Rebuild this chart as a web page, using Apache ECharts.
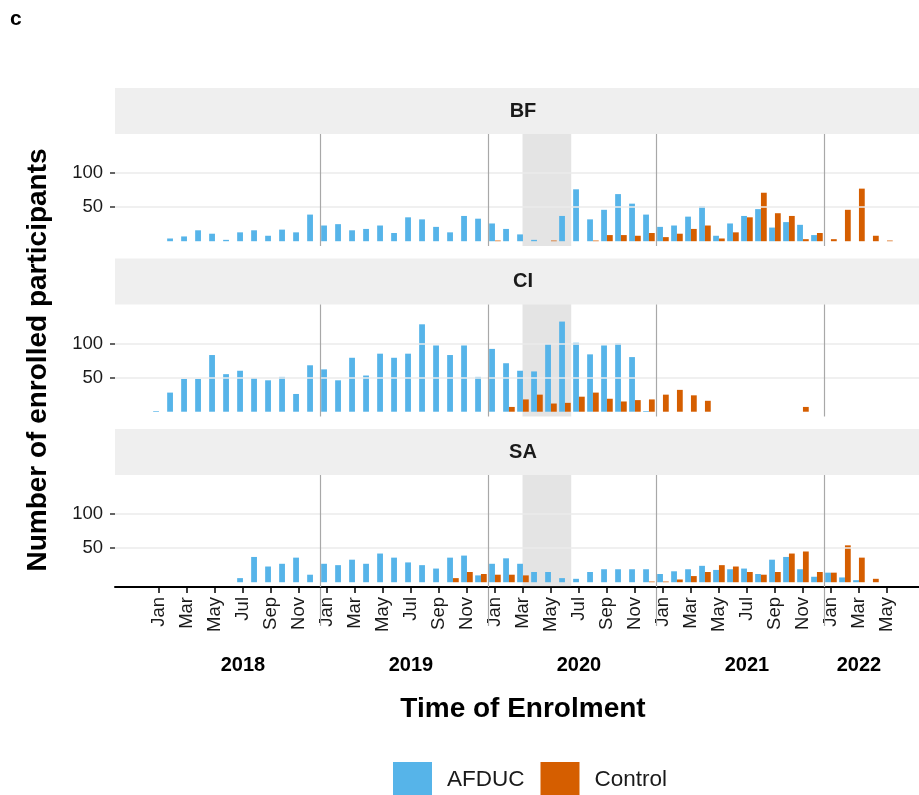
<!DOCTYPE html>
<html>
<head>
<meta charset="utf-8">
<script src="https://cdn.jsdelivr.net/npm/echarts@6/dist/echarts.min.js"></script>
<style>
    html, body { margin: 0; padding: 0; background: #fff; }
    #chart { width: 919px; height: 795px; }
</style>
</head>
<body>
<div id="chart"></div>
<script>
    // month index 0 = Jan 2018 ... 52 = May 2022
    var months = ['Jan', 'Feb', 'Mar', 'Apr', 'May', 'Jun', 'Jul', 'Aug', 'Sep', 'Oct', 'Nov', 'Dec'];
    var monthTicks = [0, 2, 4, 6, 8, 10, 12, 14, 16, 18, 20, 22, 24, 26, 28, 30, 32, 34, 36, 38, 40, 42, 44, 46, 48, 50, 52];
    var years = ['2018', '2019', '2020', '2021', '2022'];
    var yearPos = [6, 18, 30, 42, 50];
    var yearBreaks = [11.5, 23.5, 35.5, 47.5];
    var lockdown = [25.97, 29.45];
    var sites = ['BF', 'CI', 'SA'];
    var yTicks = [50, 100];

    var bfAfduc = [null, 4, 7, 16, 11, 2, 13, 16, 8, 17, 13, 39,
        23, 25, 16, 18, 23, 12, 35, 32, 21, 13, 37, 33,
        26, 18, 10, 2, null, 37, 76, 32, 46, 69, 55, 39,
        21, 23, 36, 51, 8, 26, 37, 47, 20, 28, 24, 9,
        null, null, null, null, null];
    var bfControl = [null, null, null, null, null, null, null, null, null, null, null, null,
        null, null, null, null, null, null, null, null, null, null, null, null,
        1, null, null, null, 1, null, null, 1, 9, 9, 8, 12,
        6, 11, 18, 23, 4, 13, 35, 71, 41, 37, 3, 12,
        3, 46, 77, 8, 1];
    var ciAfduc = [1, 28, 48, 48, 83, 55, 60, 49, 46, 51, 26, 68,
        62, 46, 79, 53, 85, 79, 85, 128, 97, 83, 97, 51,
        92, 71, 60, 59, 99, 132, 101, 84, 97, 100, 80, 1,
        null, null, null, null, null, null, null, null, null, null, null, null,
        null, null, null, null, null];
    var ciControl = [null, null, null, null, null, null, null, null, null, null, null, null,
        null, null, null, null, null, null, null, null, null, null, null, null,
        null, 7, 18, 25, 12, 13, 22, 28, 19, 15, 17, 18,
        25, 32, 24, 16, null, null, null, null, null, null, 7, null,
        null, null, null, null, null];
    var saAfduc = [null, null, null, null, null, null, 6, 37, 23, 27, 36, 11,
        27, 25, 33, 27, 42, 36, 29, 25, 20, 36, 39, 10,
        27, 35, 27, 15, 15, 6, 5, 15, 19, 19, 19, 19,
        12, 16, 19, 24, 18, 19, 20, 12, 33, 37, 19, 8,
        14, 7, 3, null, null];
    var saControl = [null, null, null, null, null, null, null, null, null, null, null, null,
        null, null, null, null, null, null, null, null, null, 6, 15, 12,
        11, 11, 10, null, null, null, null, null, null, null, null, 1,
        1, 4, 9, 15, 25, 23, 15, 11, 15, 42, 45, 15,
        14, 54, 36, 5, null];

    var afducSets = [bfAfduc, ciAfduc, saAfduc];
    var controlSets = [bfControl, ciControl, saControl];

    var FONT = "'Liberation Sans', Arial, Helvetica, sans-serif";
    var BLUE = '#56B4E9', ORANGE = '#D55E00';
    var panelTops = [134, 304.5, 475];
    var panelH = 112;
    var stripH = 46;
    // panels run to the right edge of the (cropped) figure; labels centre on the full panel width
    var gridLeft = 115, gridW = 804;
    var xMin = -3.14, xMax = 54.29;
    var panelCenter = 523;

    function toPairs(arr) {
        var out = [];
        arr.forEach(function (v, i) {
            if (v !== null) out.push([i, v]);
        });
        return out;
    }

    var grids = [], xAxes = [], yAxes = [], series = [], graphics = [];

    sites.forEach(function (site, k) {
        var isLast = k === sites.length - 1;
        grids.push({left: gridLeft, top: panelTops[k], width: gridW, height: panelH, outerBoundsMode: 'none'});
        xAxes.push({
            type: 'value', gridIndex: k, min: xMin, max: xMax,
            splitLine: {show: false},
            axisLine: {show: isLast, onZero: false, lineStyle: {color: '#000', width: 2}},
            axisTick: {show: isLast, customValues: monthTicks, length: 6, lineStyle: {color: '#000', width: 1.5}},
            axisLabel: {
                show: isLast, customValues: monthTicks, rotate: 90, margin: 10,
                fontSize: 18.5, color: '#1a1a1a', fontFamily: FONT,
                formatter: function (v) { return months[Math.round(v) % 12]; }
            }
        });
        yAxes.push({
            type: 'value', gridIndex: k, min: -7, max: 157,
            splitLine: {show: false},
            axisLine: {show: false, onZero: false},
            axisTick: {show: true, customValues: yTicks, length: 5, lineStyle: {color: '#333', width: 1.5}},
            axisLabel: {customValues: yTicks, fontSize: 18.5, color: '#1a1a1a', fontFamily: FONT, margin: 12}
        });

        // grid lines behind bars
        series.push({
            type: 'line', xAxisIndex: k, yAxisIndex: k, data: [], z: 0, silent: true,
            markLine: {
                silent: true, symbol: 'none', label: {show: false},
                lineStyle: {color: '#EBEBEB', width: 1.5, type: 'solid'},
                data: yTicks.map(function (t) { return {yAxis: t}; })
            }
        });

        series.push({
            name: 'AFDUC', type: 'bar', xAxisIndex: k, yAxisIndex: k,
            data: toPairs(afducSets[k]), barWidth: 5.8, barGap: '0%', z: 2,
            itemStyle: {color: BLUE}
        });
        series.push({
            name: 'Control', type: 'bar', xAxisIndex: k, yAxisIndex: k,
            data: toPairs(controlSets[k]), barWidth: 5.8, barGap: '0%', z: 2,
            itemStyle: {color: ORANGE}
        });

        // year separators + shaded period on top
        series.push({
            type: 'line', xAxisIndex: k, yAxisIndex: k, data: [], z: 5, silent: true,
            markLine: {
                silent: true, symbol: 'none', label: {show: false},
                lineStyle: {color: '#A8A8A8', width: 1.2, type: 'solid'},
                data: yearBreaks.map(function (b) { return {xAxis: b}; })
            },
            markArea: {
                silent: true,
                itemStyle: {color: 'rgba(120,120,120,0.2)'},
                data: [[{xAxis: lockdown[0]}, {xAxis: lockdown[1]}]]
            }
        });

        // facet strip
        graphics.push({
            type: 'rect', left: gridLeft, top: panelTops[k] - stripH, silent: true,
            shape: {width: gridW, height: stripH},
            style: {fill: '#EFEFEF'}
        });
        graphics.push({
            type: 'text', x: panelCenter, y: panelTops[k] - stripH / 2, silent: true,
            style: {text: site, fill: '#1a1a1a', font: 'bold 20px ' + FONT, textAlign: 'center', textVerticalAlign: 'middle'}
        });
    });

    // year labels under the month labels
    xAxes.push({
        type: 'value', gridIndex: 2, min: xMin, max: xMax, position: 'bottom', offset: 60,
        splitLine: {show: false}, axisLine: {show: false}, axisTick: {show: false},
        axisLabel: {
            customValues: yearPos, margin: 8, fontSize: 20, fontWeight: 'bold', color: '#000', fontFamily: FONT,
            formatter: function (v) { return years[yearPos.indexOf(v)]; }
        }
    });

    // separators continue through the month label band
    grids.push({left: gridLeft, top: 588, width: gridW, height: 38, outerBoundsMode: 'none'});
    xAxes.push({type: 'value', gridIndex: 3, min: xMin, max: xMax, show: false});
    yAxes.push({type: 'value', gridIndex: 3, min: 0, max: 1, show: false});
    series.push({
        type: 'line', xAxisIndex: 4, yAxisIndex: 3, data: [], silent: true,
        markLine: {
            silent: true, symbol: 'none', label: {show: false},
            lineStyle: {color: '#A8A8A8', width: 1.2, type: 'solid'},
            data: yearBreaks.map(function (b) { return {xAxis: b}; })
        }
    });

    graphics.push({
        type: 'text', x: 10, y: 9, silent: true,
        style: {text: 'c', fill: '#000', font: 'bold 21px ' + FONT}
    });
    graphics.push({
        type: 'text', x: 38, y: 360, rotation: Math.PI / 2, silent: true,
        style: {text: 'Number of enrolled participants', fill: '#000', font: 'bold 28px ' + FONT,
            textAlign: 'center', textVerticalAlign: 'middle'}
    });
    graphics.push({
        type: 'text', x: panelCenter, y: 709, silent: true,
        style: {text: 'Time of Enrolment', fill: '#000', font: 'bold 28px ' + FONT,
            textAlign: 'center', textVerticalAlign: 'middle'}
    });

    var myChart = echarts.init(document.getElementById('chart'));
    myChart.setOption({
        animation: false,
        backgroundColor: '#fff',
        grid: grids,
        xAxis: xAxes,
        yAxis: yAxes,
        legend: {
            data: ['AFDUC', 'Control'],
            left: 388, top: 757,
            icon: 'rect', itemWidth: 39, itemHeight: 36, itemGap: 16,
            textStyle: {fontSize: 22.5, color: '#1a1a1a', fontFamily: FONT, padding: [0, 0, 0, 10]}
        },
        graphic: graphics,
        series: series
    });
</script>
</body>
</html>
